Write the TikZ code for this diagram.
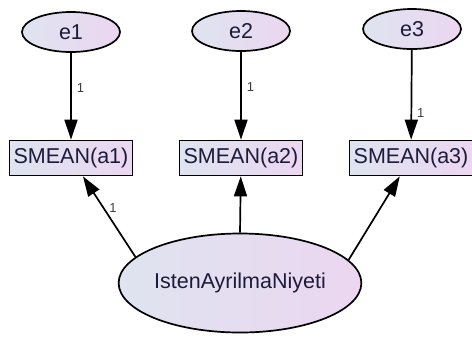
\documentclass[tikz,border=0pt]{standalone}
\usepackage{fontspec}
\setmainfont{Liberation Sans}
\usetikzlibrary{arrows.meta,shapes.geometric}
\definecolor{fillL}{RGB}{222,228,240}
\definecolor{fillR}{RGB}{236,214,240}
\definecolor{txt}{RGB}{28,28,58}
\definecolor{lbl}{RGB}{60,60,70}
\tikzset{
  varfont/.style={text=txt, font=\fontsize{21.5bp}{23bp}\selectfont},
  errvar/.style={ellipse, draw=black, line width=1.7bp, left color=fillL, right color=fillR,
    minimum width=98bp, minimum height=40bp, inner sep=0pt, varfont},
  obsvar/.style={rectangle, draw=black, line width=1.7bp, left color=fillL, right color=fillR,
    minimum width=123bp, minimum height=35bp, inner sep=0pt, varfont},
  latvar/.style={ellipse, draw=black, line width=1.7bp, left color=fillL, right color=fillR,
    minimum width=236bp, minimum height=99bp, inner sep=0pt, varfont},
  regpath/.style={draw=black, line width=1.7bp, -{Triangle[length=20bp,width=13bp]}},
  wlabel/.style={text=lbl, font=\fontsize{13bp}{14bp}\selectfont, inner sep=1bp, anchor=west}
}
\begin{document}
\begin{tikzpicture}[x=1bp, y=-1bp]
  \useasboundingbox (0,0) rectangle (472,338);
  % error terms
  \node[errvar] (e1) at (71,32) {e1};
  \node[errvar] (e2) at (241,31) {e2};
  \node[errvar] (e3) at (412,29) {e3};
  % observed variables
  \node[obsvar] (a1) at (71,158) {SMEAN(a1)};
  \node[obsvar] (a2) at (241,158) {SMEAN(a2)};
  \node[obsvar] (a3) at (411,158) {SMEAN(a3)};
  % latent factor
  \node[latvar] (F) at (240,283) {IstenAyrilmaNiyeti};
  % error paths
  \draw[regpath] (e1) -- node[wlabel, pos=0.4, xshift=4bp] {1} (a1);
  \draw[regpath] (e2) -- node[wlabel, pos=0.4, xshift=4bp] {1} (a2);
  \draw[regpath] (e3) -- node[wlabel, pos=0.7, xshift=4bp] {1} (a3);
  % factor loadings
  \draw[regpath] (F.166) -- node[wlabel, pos=0.61, xshift=4bp] {1} (a1);
  \draw[regpath] (F.90) -- (a2);
  \draw[regpath] (F.12) -- (a3);
\end{tikzpicture}
\end{document}
